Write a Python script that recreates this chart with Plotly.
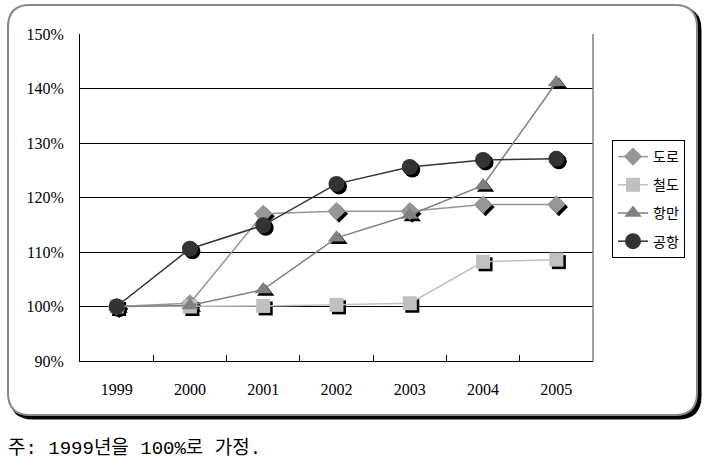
import plotly.graph_objects as go

# ---- data ----
years = ["1999", "2000", "2001", "2002", "2003", "2004", "2005"]
road = [100, 100.6, 117.0, 117.5, 117.5, 118.7, 118.7]       # 도로
rail = [100, 100, 100.1, 100.3, 100.6, 108.2, 108.6]          # 철도
port = [100, 100.2, 103.1, 112.6, 116.8, 122.2, 141.1]        # 항만
airport = [100, 110.6, 114.9, 122.5, 125.6, 126.9, 127.1]     # 공항
series_names = ["도로", "철도", "항만", "공항"]
y_ticks = [90, 100, 110, 120, 130, 140, 150]
y_tick_labels = ["90%", "100%", "110%", "120%", "130%", "140%", "150%"]
footnote = "주: 1999년을 100%로 가정."

# ---- layout geometry (pixels) ----
W, H = 709, 466
ML, MR, MT, MB = 80, 116, 34, 105
PW, PH = W - ML - MR, H - MT - MB
YMIN, YMAX = 90, 150
ncat = len(years)

def fx(px):
    return (px - ML) / PW

def fy(py):
    return (H - MB - py) / PH

def rrect(x0, y0, x1, y1, r):
    pts = [
        ("M", [(x0 + r, y0)]),
        ("L", [(x1 - r, y0)]),
        ("Q", [(x1, y0), (x1, y0 + r)]),
        ("L", [(x1, y1 - r)]),
        ("Q", [(x1, y1), (x1 - r, y1)]),
        ("L", [(x0 + r, y1)]),
        ("Q", [(x0, y1), (x0, y1 - r)]),
        ("L", [(x0, y0 + r)]),
        ("Q", [(x0, y0), (x0 + r, y0)]),
    ]
    s = ""
    for cmd, ps in pts:
        s += cmd + " " + " ".join(f"{fx(a):.5f},{fy(b):.5f}" for a, b in ps) + " "
    return s + "Z"

styles = [
    dict(data=road, color="#969696", symbol="diamond", size=14),
    dict(data=rail, color="#C0C0C0", symbol="square", size=14),
    dict(data=port, color="#808080", symbol="triangle-up", size=15),
    dict(data=airport, color="#333333", symbol="circle", size=16),
]

fig = go.Figure()

# shadows (on the hidden, slightly shifted axes x/y)
for st in styles:
    fig.add_trace(go.Scatter(
        x=years, y=st["data"], mode="markers", xaxis="x", yaxis="y",
        marker=dict(symbol=st["symbol"], size=st["size"], color="black",
                    line=dict(width=0)),
        showlegend=False, hoverinfo="skip"))

# real series
for name, st in zip(series_names, styles):
    fig.add_trace(go.Scatter(
        x=years, y=st["data"], mode="lines+markers", name=name,
        xaxis="x2", yaxis="y2", legendgroup=name,
        line=dict(color=st["color"], width=1.5),
        marker=dict(symbol=st["symbol"], size=st["size"], color=st["color"],
                    line=dict(width=0))))

sx = 2.5 / (PW / ncat)
sy = 2.5 / (PH / (YMAX - YMIN))

tickfont = dict(family="Liberation Serif", size=16, color="black")
hidden = dict(showticklabels=False, showgrid=False, showline=False, ticks="",
              zeroline=False, tickfont=tickfont)

fig.update_layout(
    width=W, height=H,
    font=dict(family="Liberation Serif", size=16, color="black"),
    margin=dict(l=ML, r=MR, t=MT, b=MB, pad=0),
    paper_bgcolor="white", plot_bgcolor="rgba(0,0,0,0)",
    xaxis=dict(type="category", categoryorder="array", categoryarray=years,
               range=[-0.5 - sx, ncat - 0.5 - sx], **hidden),
    yaxis=dict(range=[YMIN + sy, YMAX + sy], **hidden),
    xaxis2=dict(type="category", categoryorder="array", categoryarray=years,
                range=[-0.5, ncat - 0.5], overlaying="x", anchor="y2",
                showline=True, linecolor="black", linewidth=1,
                ticks="inside", ticklen=6, tickcolor="black", tickwidth=1,
                tickson="boundaries", showgrid=False, tickfont=tickfont,
                ticklabelstandoff=14),
    yaxis2=dict(range=[YMIN, YMAX], overlaying="y", anchor="x2", side="left",
                tickmode="array", tickvals=y_ticks, ticktext=y_tick_labels,
                showline=True, linecolor="black", linewidth=1,
                showgrid=True, gridcolor="black", gridwidth=1,
                ticks="", tickfont=tickfont, ticklabelstandoff=12,
                zeroline=False, showticklabels=True),
    legend=dict(x=fx(612), y=fy(140), xanchor="left", yanchor="top",
                bordercolor="black", borderwidth=1, bgcolor="white",
                font=dict(family="Noto Sans CJK KR", size=14, color="black"),
                tracegroupgap=7, traceorder="grouped"),
    showlegend=True,
    shapes=[
        dict(type="path", xref="paper", yref="paper", layer="below",
             path=rrect(11, 8, 700, 418, 22),
             line=dict(color="black", width=3), fillcolor="black"),
        dict(type="path", xref="paper", yref="paper", layer="below",
             path=rrect(8, 5, 697, 415, 22),
             line=dict(color="#888888", width=2), fillcolor="white"),
        dict(type="line", xref="paper", yref="paper", layer="above",
             x0=1, x1=1, y0=0, y1=1, line=dict(color="#808080", width=1.5)),
    ],
    annotations=[
        dict(text=footnote, xref="paper", yref="paper", x=fx(6), y=fy(449),
             xanchor="left", yanchor="middle", showarrow=False,
             font=dict(family="Liberation Mono, Noto Sans CJK KR", size=19,
                       color="black")),
    ],
)

fig.write_html("out.html")
